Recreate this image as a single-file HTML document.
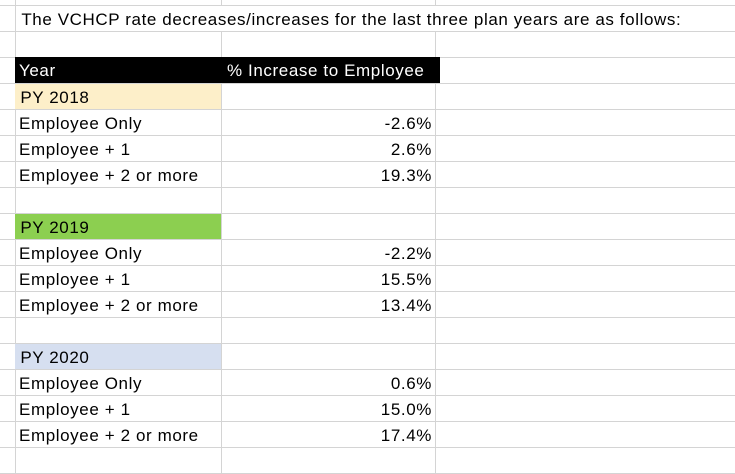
<!DOCTYPE html>
<html><head><style>
body{margin:0;width:735px;height:474px;background:#fff;overflow:hidden;position:relative;font-family:"Liberation Sans",sans-serif;font-size:17px;letter-spacing:0.6px;color:#000}
.h{position:absolute;left:0;width:735px;height:1px;background:#d4d4d4}
.v{position:absolute;top:0;height:474px;width:1px;background:#d4d4d4}
.c{position:absolute;height:25px;line-height:27px;white-space:nowrap}
.r{text-align:right}
</style></head><body>
<div class="v" style="left:15px"></div>
<div class="v" style="left:221px"></div>
<div class="v" style="left:435px"></div>
<script>
for(let y=5;y<474;y+=26)document.write('<div class="h" style="top:'+y+'px"></div>');
</script>
<div class="c" style="left:16px;top:6px;width:719px;background:#fff">&nbsp;The VCHCP rate decreases/increases for the last three plan years are as follows:</div>
<div class="c" style="left:15px;top:57px;width:425px;height:26px;background:#000;color:#fff">
 <span style="position:absolute;left:4px">Year</span><span style="position:absolute;left:212px">% Increase to Employee</span></div>
<div class="c" style="left:15px;top:84px;width:206px;background:#fdefc9">&nbsp;PY 2018</div>
<div class="c" style="left:19px;top:110px">Employee Only</div><div class="c r" style="left:222px;top:110px;width:210px">-2.6%</div>
<div class="c" style="left:19px;top:136px">Employee + 1</div><div class="c r" style="left:222px;top:136px;width:210px">2.6%</div>
<div class="c" style="left:19px;top:162px">Employee + 2 or more</div><div class="c r" style="left:222px;top:162px;width:210px">19.3%</div>
<div class="c" style="left:15px;top:214px;width:206px;background:#8ccf50">&nbsp;PY 2019</div>
<div class="c" style="left:19px;top:240px">Employee Only</div><div class="c r" style="left:222px;top:240px;width:210px">-2.2%</div>
<div class="c" style="left:19px;top:266px">Employee + 1</div><div class="c r" style="left:222px;top:266px;width:210px">15.5%</div>
<div class="c" style="left:19px;top:292px">Employee + 2 or more</div><div class="c r" style="left:222px;top:292px;width:210px">13.4%</div>
<div class="c" style="left:15px;top:344px;width:206px;background:#d6dff0">&nbsp;PY 2020</div>
<div class="c" style="left:19px;top:370px">Employee Only</div><div class="c r" style="left:222px;top:370px;width:210px">0.6%</div>
<div class="c" style="left:19px;top:396px">Employee + 1</div><div class="c r" style="left:222px;top:396px;width:210px">15.0%</div>
<div class="c" style="left:19px;top:422px">Employee + 2 or more</div><div class="c r" style="left:222px;top:422px;width:210px">17.4%</div>
</body></html>
